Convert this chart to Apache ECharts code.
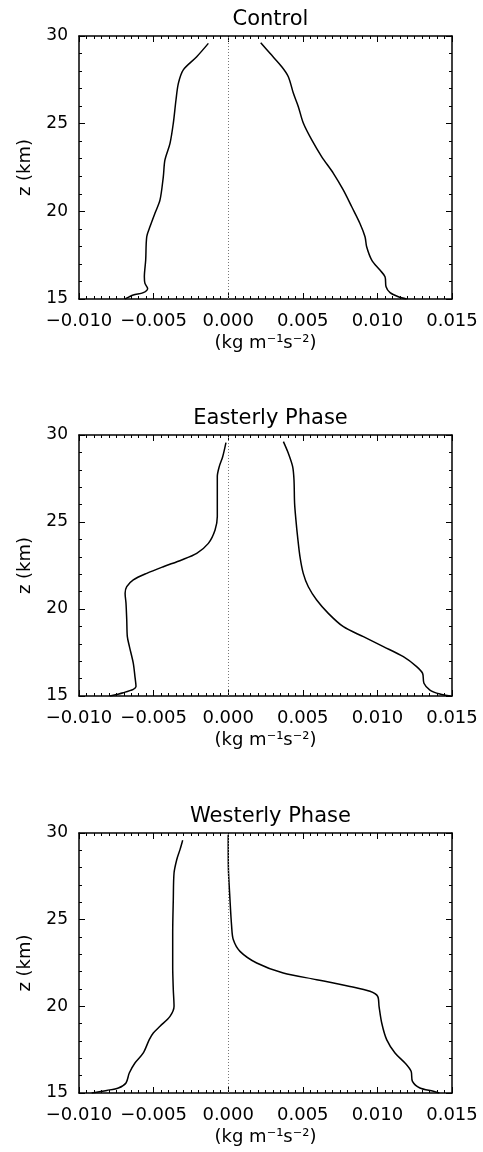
<!DOCTYPE html>
<html>
<head>
<meta charset="utf-8">
<script src="https://cdn.jsdelivr.net/npm/echarts@6/dist/echarts.min.js"></script>
<style>
html,body{margin:0;padding:0;background:#fff;}
#chart{width:483px;height:1152px;}
</style>
</head>
<body>
<div id="chart"></div>
<script>
// ---- data: [flux (kg m^-1 s^-2), z (km)] ----
var titles = ['Control', 'Easterly Phase', 'Westerly Phase'];
var xTicks = [-0.010, -0.005, 0.000, 0.005, 0.010, 0.015];
var yTicks = [15, 20, 25, 30];

var controlLeft = [[-0.00133,29.58],[-0.00211,28.82],[-0.00301,28.07],[-0.00334,27.30],[-0.00350,26.35],[-0.00368,25.02],[-0.00390,23.88],[-0.00424,22.93],[-0.00435,21.97],[-0.00457,20.65],[-0.00491,19.89],[-0.00524,19.13],[-0.00546,18.55],[-0.00553,17.22],[-0.00562,16.27],[-0.00558,15.89],[-0.00540,15.60],[-0.00569,15.36],[-0.00636,15.23],[-0.00692,15.00]];
var controlRight = [[0.00218,29.62],[0.00280,29.01],[0.00359,28.25],[0.00403,27.68],[0.00437,26.73],[0.00470,25.97],[0.00504,25.02],[0.00560,24.07],[0.00627,23.11],[0.00705,22.17],[0.00771,21.22],[0.00828,20.26],[0.00883,19.31],[0.00917,18.55],[0.00928,17.98],[0.00962,17.22],[0.01017,16.65],[0.01051,16.27],[0.01058,15.70],[0.01085,15.36],[0.01140,15.13],[0.01196,15.00]];

var easterlyLeft = [[-0.00015,29.56],[-0.00037,28.75],[-0.00060,28.18],[-0.00073,27.61],[-0.00073,26.07],[-0.00073,25.31],[-0.00088,24.54],[-0.00133,23.77],[-0.00211,23.20],[-0.00312,22.82],[-0.00435,22.43],[-0.00546,22.05],[-0.00636,21.67],[-0.00680,21.28],[-0.00691,20.90],[-0.00685,20.33],[-0.00680,19.37],[-0.00676,18.41],[-0.00662,17.84],[-0.00636,16.88],[-0.00625,16.11],[-0.00618,15.54],[-0.00636,15.38],[-0.00703,15.19],[-0.00792,15.00]];
var easterlyRight = [[0.00370,29.62],[0.00403,28.95],[0.00432,28.18],[0.00441,27.41],[0.00445,26.07],[0.00454,25.11],[0.00465,24.16],[0.00481,23.01],[0.00503,22.05],[0.00537,21.28],[0.00593,20.52],[0.00671,19.75],[0.00772,18.98],[0.00906,18.41],[0.01040,17.84],[0.01174,17.26],[0.01263,16.69],[0.01303,16.30],[0.01312,15.73],[0.01352,15.34],[0.01419,15.11],[0.01490,15.00]];

var westerlyLeft = [[-0.00305,29.58],[-0.00323,29.04],[-0.00345,28.46],[-0.00363,27.69],[-0.00368,26.15],[-0.00372,24.23],[-0.00372,22.31],[-0.00368,20.96],[-0.00363,20.00],[-0.00390,19.42],[-0.00457,18.85],[-0.00502,18.46],[-0.00529,18.08],[-0.00569,17.31],[-0.00625,16.73],[-0.00663,16.15],[-0.00685,15.58],[-0.00736,15.29],[-0.00814,15.15],[-0.00915,15.00]];
var westerlyRight = [[0.00000,29.90],[0.00001,28.08],[0.00012,26.15],[0.00023,24.62],[0.00034,23.85],[0.00079,23.17],[0.00191,22.50],[0.00369,21.92],[0.00593,21.54],[0.00816,21.15],[0.00950,20.87],[0.01002,20.58],[0.01011,20.00],[0.01029,19.04],[0.01062,18.08],[0.01118,17.31],[0.01185,16.73],[0.01226,16.25],[0.01235,15.67],[0.01285,15.29],[0.01375,15.10],[0.01415,15.00]];

var panelData = [[controlLeft, controlRight],[easterlyLeft, easterlyRight],[westerlyLeft, westerlyRight]];

// ---- layout ----
var FONT = 'DejaVu Sans';
var gridTops = [36, 435, 833];
var gridHeights = [263, 261, 260];
var gridLeft = 79, gridWidth = 373;

function fmtX(v){
  if (Math.abs(v) < 1e-9) return '0.000';
  return (v < 0 ? '\u2212' : '') + Math.abs(v).toFixed(3);
}

var option = {
  animation: false,
  backgroundColor: '#fff',
  title: [], grid: [], xAxis: [], yAxis: [], series: []
};

var axisLine = {show: true, onZero: false, lineStyle: {color: '#000', width: 1.5}};
var tickStyle = {show: true, inside: true, length: 6, lineStyle: {color: '#000', width: 1}};

for (var i = 0; i < 3; i++) {
  option.title.push({
    text: titles[i], left: gridLeft + gridWidth/2, top: gridTops[i] - 32, textAlign: 'center',
    textStyle: {fontFamily: FONT, fontSize: 21, fontWeight: 'normal', color: '#000'}
  });
  option.grid.push({left: gridLeft, top: gridTops[i], width: gridWidth, height: gridHeights[i], containLabel: false});
  var xmin = xTicks[0], xmax = xTicks[xTicks.length-1], xint = xTicks[1]-xTicks[0];
  var ymin = yTicks[0], ymax = yTicks[yTicks.length-1], yint = yTicks[1]-yTicks[0];
  // bottom x
  option.xAxis.push({
    type: 'value', gridIndex: i, position: 'bottom', min: xmin, max: xmax, interval: xint,
    axisLine: axisLine, axisTick: tickStyle,
    minorTick: {show: true, splitNumber: 10, length: 3, lineStyle: {color: '#000', width: 1}},
    splitLine: {show: false},
    axisLabel: {show: true, margin: 13, formatter: fmtX, fontFamily: FONT, fontSize: 18, color: '#000'},
    name: '(kg m\u207B\u00B9s\u207B\u00B2)', nameLocation: 'middle', nameGap: 35,
    nameTextStyle: {fontFamily: FONT, fontSize: 18, color: '#000'}
  });
  // top x
  option.xAxis.push({
    type: 'value', gridIndex: i, position: 'top', min: xmin, max: xmax, interval: xint,
    axisLine: axisLine, axisTick: tickStyle,
    minorTick: {show: true, splitNumber: 10, length: 3, lineStyle: {color: '#000', width: 1}},
    splitLine: {show: false}, axisLabel: {show: false}
  });
  // left y
  option.yAxis.push({
    type: 'value', gridIndex: i, position: 'left', min: ymin, max: ymax, interval: yint,
    axisLine: axisLine, axisTick: tickStyle,
    minorTick: {show: true, splitNumber: 5, length: 3, lineStyle: {color: '#000', width: 1}},
    splitLine: {show: false},
    axisLabel: {show: true, margin: 11, fontFamily: FONT, fontSize: 17, color: '#000'},
    name: 'z (km)', nameLocation: 'middle', nameGap: 45, nameRotate: 90,
    nameTextStyle: {fontFamily: FONT, fontSize: 18, color: '#000'}
  });
  // right y
  option.yAxis.push({
    type: 'value', gridIndex: i, position: 'right', min: ymin, max: ymax, interval: yint,
    axisLine: axisLine, axisTick: tickStyle,
    minorTick: {show: true, splitNumber: 5, length: 3, lineStyle: {color: '#000', width: 1}},
    splitLine: {show: false}, axisLabel: {show: false}
  });
  for (var k = 0; k < 2; k++) {
    var s = {
      type: 'line', xAxisIndex: 2*i, yAxisIndex: 2*i, data: panelData[i][k],
      showSymbol: false, symbol: 'none', smooth: 0.3, silent: true,
      lineStyle: {color: '#000', width: 1.5}
    };
    if (k === 0) {
      s.markLine = {
        silent: true, symbol: 'none', label: {show: false},
        lineStyle: {color: '#777', type: [1, 2], width: 1},
        data: [{xAxis: 0}]
      };
    }
    option.series.push(s);
  }
}

var chart = echarts.init(document.getElementById('chart'), null, {renderer: 'canvas'});
chart.setOption(option);
</script>
</body>
</html>
